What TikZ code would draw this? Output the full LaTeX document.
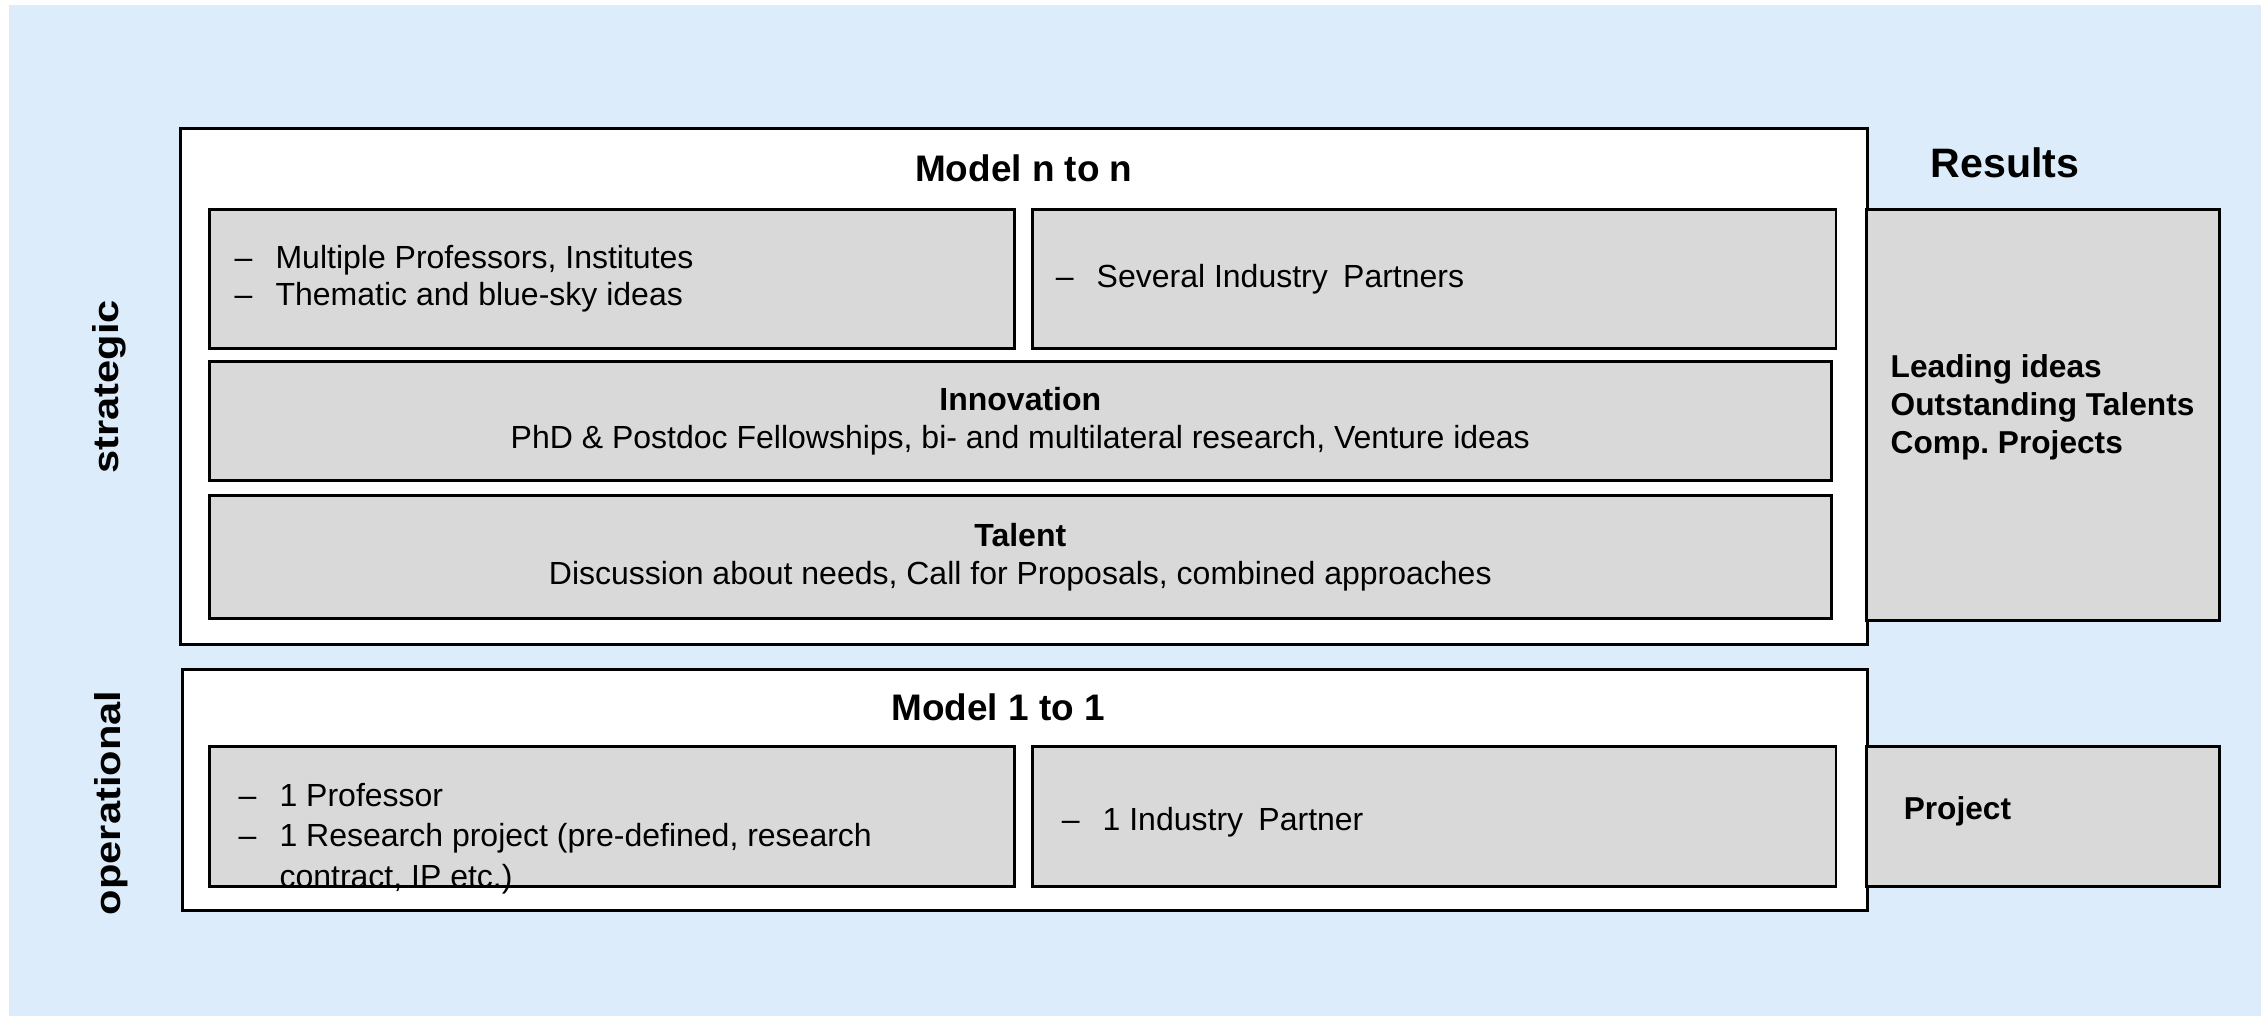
\documentclass[tikz,border=0pt]{standalone}
\usepackage{fontspec}
\setmainfont{Liberation Sans}
\newfontfamily\sidefont[FakeStretch=1.16]{Liberation Sans}
\usetikzlibrary{positioning}
\definecolor{bgblue}{RGB}{220,236,250}
\definecolor{boxgray}{RGB}{217,217,217}
\newcommand{\bdash}{\textendash\hspace{0.72em}}

\begin{document}
\begin{tikzpicture}[x=0.01cm, y=-0.01cm]
	\tikzstyle{frame} = [rectangle, draw=black, line width=0.75pt, fill=white, anchor=north west, inner sep=0pt]
	\tikzstyle{elem} = [rectangle, draw=black, line width=0.75pt, fill=boxgray, anchor=north west, inner sep=0pt, align=center, font=\fontsize{9.1}{10.8}\selectfont]
	\tikzstyle{txt} = [inner sep=0pt, align=left, font=\fontsize{9.1}{10.5}\selectfont]
	\tikzstyle{res} = [inner sep=0pt, align=left, font=\bfseries\fontsize{9}{10.7}\selectfont]
	\tikzstyle{title} = [inner sep=0pt, font=\bfseries\fontsize{10.5}{12.5}\selectfont]
	\tikzstyle{side} = [inner sep=0pt, rotate=90, font=\sidefont\bfseries\fontsize{10.2}{12}\selectfont]

	\useasboundingbox (0,0) rectangle (2267,1016);
	\fill [bgblue] (9,5) rectangle (2261,1016);

	% model n to n
	\node (modelN) [frame, minimum width=16.86cm, minimum height=5.16cm] at (179,127) {};
	\node (titleN) [title, below=0.27cm of modelN.north] {Model n to n};
	\node (profsN) [elem, minimum width=8.05cm, minimum height=1.39cm] at (208,208) {};
	\node (partnersN) [elem, minimum width=8.03cm, minimum height=1.39cm, right=0.15cm of profsN] {};
	\node (innovation) [elem, minimum width=16.21cm, minimum height=1.19cm] at (208,360) {\textbf{Innovation}\\PhD \& Postdoc Fellowships, bi- and multilateral research, Venture ideas};
	\node (talent) [elem, minimum width=16.21cm, minimum height=1.23cm] at (208,494) {\textbf{Talent}\\Discussion about needs, Call for Proposals, combined approaches};
	\node (profsNtxt) [txt, right=0.26cm of profsN.west] {\bdash Multiple Professors, Institutes\\\bdash Thematic and blue-sky ideas};
	\node (partnersNtxt) [txt, right=0.24cm of partnersN.west] {\bdash Several Industry\hspace{0.2em} Partners};

	% model 1 to 1
	\node (modelOne) [frame, minimum width=16.84cm, minimum height=2.41cm] at (181,668) {};
	\node (titleOne) [title] at (998,707) {Model 1 to 1};
	\node (profsOne) [elem, minimum width=8.05cm, minimum height=1.40cm] at (208,745) {};
	\node (partnerOne) [elem, minimum width=8.03cm, minimum height=1.40cm, right=0.15cm of profsOne] {};
	\node (profsOnetxt) [txt, font=\fontsize{9.1}{11.4}\selectfont, below right=0.38cm and 0.30cm of profsOne.north west] {\bdash 1 Professor\\\bdash 1 Research project (pre-defined, research\\\phantom{\bdash}contract, IP etc.)};
	\node (partnerOnetxt) [txt, right=0.30cm of partnerOne.west, yshift=-0.06cm] {\bdash 1 Industry\hspace{0.2em} Partner};

	% results
	\node (resTitle) [title, font=\bfseries\fontsize{11.7}{14}\selectfont] at (2005,163) {Results};
	\node (resultsBox) [elem, minimum width=3.53cm, minimum height=4.11cm] at (1865,208) {};
	\node (resultsTxt) [res, right=0.25cm of resultsBox.west, yshift=0.075cm] {Leading ideas\\Outstanding Talents\\Comp.\ Projects};
	\node (projectBox) [elem, minimum width=3.53cm, minimum height=1.40cm] at (1865,745) {};
	\node (projectTxt) [res, right=0.38cm of projectBox.west, yshift=0.05cm] {Project};

	% levels
	\node (strategic) [side] at (109,387) {strategic};
	\node (operational) [side] at (111,803) {operational};
\end{tikzpicture}
\end{document}
